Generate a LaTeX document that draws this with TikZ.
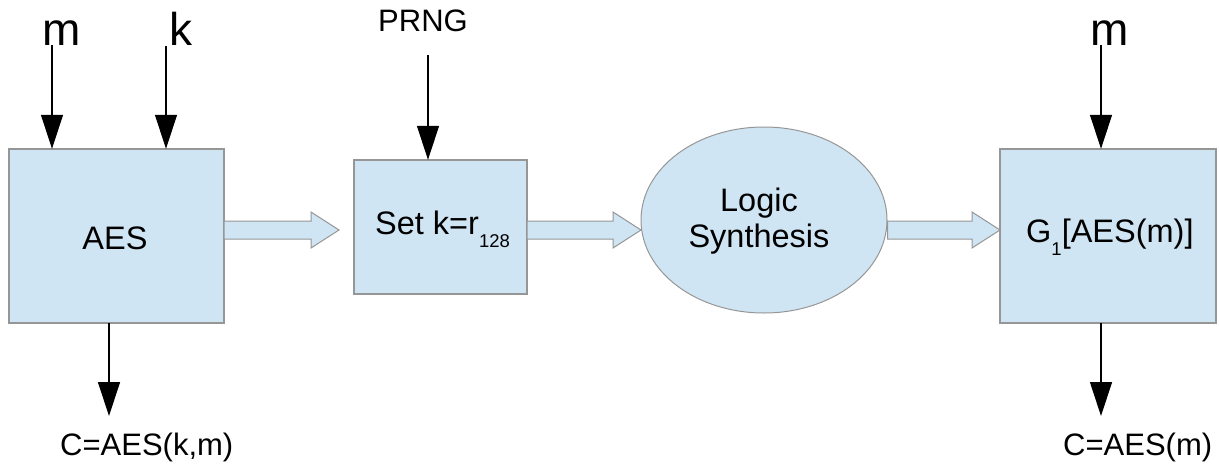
\documentclass[tikz,border=0pt]{standalone}
\usepackage{fontspec}
\setmainfont{Liberation Sans}
\usetikzlibrary{arrows.meta,shapes.geometric,calc}
\definecolor{boxfill}{RGB}{207,229,243}
\definecolor{boxline}{RGB}{150,150,150}
\tikzset{
  blk/.style={draw=boxline, fill=boxfill, line width=1.2pt, inner sep=0pt},
  txt/.style={inner sep=0pt, anchor=base, font=\fontsize{31}{37}\selectfont},
  boxtxt/.style={inner sep=0pt, anchor=base, font=\fontsize{32.5}{38}\selectfont},
  bigtxt/.style={inner sep=0pt, anchor=base, font=\fontsize{46}{50}\selectfont},
  inarrow/.style={line width=1.2pt, -{Triangle[width=22pt,length=34pt]}},
  blockarr/.style={draw=boxline, fill=boxfill, line width=1pt},
}
\newcommand{\subsc}[1]{\raisebox{-13pt}{\fontsize{18.5}{18.5}\selectfont #1}}
\begin{document}
\begin{tikzpicture}[x=1pt,y=-1pt]
\useasboundingbox (0,0) rectangle (1219,466);
% boxes
\path[blk] (9,149) rectangle (224,323);
\node[inner sep=0pt, minimum width=215pt, minimum height=174pt] (aes) at (116.5,236) {};
\path[blk] (354,160) rectangle (527,294);
\node[inner sep=0pt, minimum width=173pt, minimum height=134pt] (set) at (440.5,227) {};
\node[blk, line width=1pt, ellipse, minimum width=246pt, minimum height=186pt] (ls) at (764,220) {};
\path[blk] (1000,149) rectangle (1216,323);
\node[inner sep=0pt, minimum width=216pt, minimum height=174pt] (g) at (1108,236) {};
% box texts
\node[boxtxt] (aestxt) at (115,249) {AES};
\node[boxtxt, anchor=base west] (settxt) at (375,234) {Set k=r\subsc{128}};
\node[boxtxt] (lstxt1) at (759,211) {Logic};
\node[boxtxt] (lstxt2) at (759,247) {Synthesis};
\node[boxtxt, anchor=base west] (gtxt) at (1026,242) {G\subsc{1}[AES(m)]};
% top labels
\node[bigtxt] (mlab) at (62,45) {m};
\node[bigtxt] (klab) at (181,45) {k};
\node[txt] (prng) at (423,31) {PRNG};
\node[bigtxt] (m2lab) at (1110,45) {m};
% bottom labels
\node[txt, anchor=base west] (c1) at (60,455) {C=AES(k,m)};
\node[txt, anchor=base west] (c2) at (1063,455) {C=AES(m)};
% input arrows
\coordinate (ms) at (52,45);
\coordinate (ks) at (166,46);
\coordinate (ps) at (428,55);
\coordinate (m2s) at (1101,45);
\draw[inarrow] (ms) -- (ms |- aes.north);
\draw[inarrow] (ks) -- (ks |- aes.north);
\draw[inarrow] (ps) -- (ps |- set.north);
\draw[inarrow] (m2s) -- (m2s |- g.north);
% output arrows
\coordinate (o1) at (109,416);
\coordinate (o2) at (1101,416);
\draw[inarrow] (o1 |- aes.south) -- (o1);
\draw[inarrow] (o2 |- g.south) -- (o2);
% block arrows
\foreach \a/\b/\t in {aes/set/339, set/ls/641, ls/g/1000}{
  \path let \p1=(\a.east) in
    coordinate (s) at (\x1,230);
  \draw[blockarr] let \p1=(s) in
    (\x1,221) -- (\t-28,221) -- (\t-28,212) -- (\t,230) -- (\t-28,248) -- (\t-28,239) -- (\x1,239) -- cycle;
}
\end{tikzpicture}
\end{document}
